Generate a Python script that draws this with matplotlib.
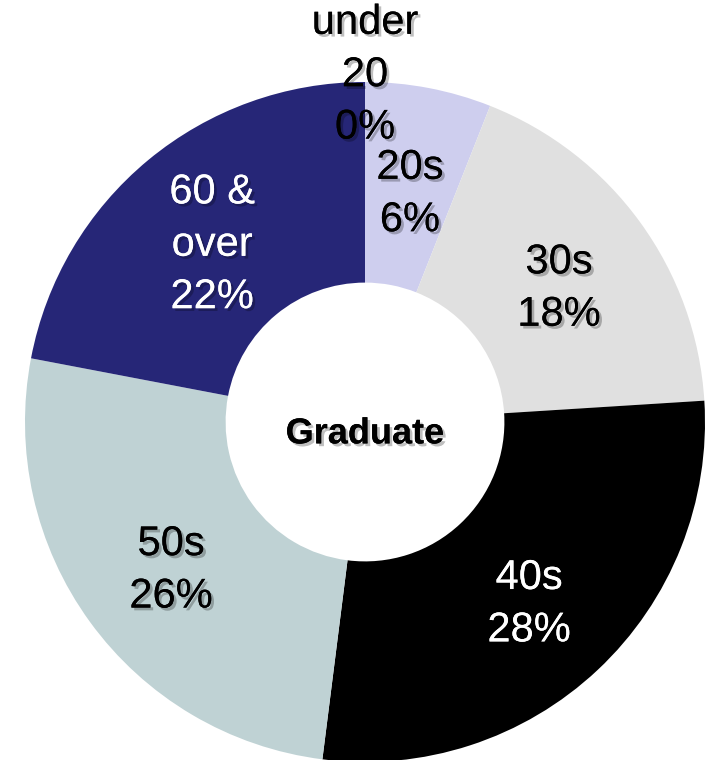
import numpy as np
import matplotlib.pyplot as plt
import matplotlib.patheffects as pe

plt.rcParams['font.family'] = ['Liberation Sans', 'DejaVu Sans']

groups = ['under\n20', '20s', '30s', '40s', '50s', '60 &\nover']
shares = [0, 6, 18, 28, 26, 22]
colors = ['#CECEEE', '#CECEEE', '#E0E0E0', '#000000', '#BFD2D4', '#262677']
text_colors = ['black', 'black', 'black', 'white', 'black', 'white']
center_label = 'Graduate'

fig = plt.figure(figsize=(7.06, 7.60), dpi=100)
ax = fig.add_axes([25 / 706, -2 / 760, 680 / 706, 680 / 760])

hole = 0.41
wedges, _ = ax.pie(shares, colors=colors, startangle=90, counterclock=False,
                   radius=1.0, wedgeprops=dict(width=1 - hole, linewidth=0))
ax.set_xlim(-1, 1)
ax.set_ylim(-1, 1)
ax.set_aspect('equal')
ax.axis('off')

shadow = [pe.withSimplePatchShadow(offset=(2, -2), shadow_rgbFace='black', alpha=0.25), pe.Normal()]

# labels sit mid-ring; the empty slice gets its label just outside the ring
for w, name, val, tc in zip(wedges, groups, shares, text_colors):
    mid = np.deg2rad((w.theta1 + w.theta2) / 2)
    if val > 0:
        x, y = (1 + hole) / 2 * np.cos(mid), (1 + hole) / 2 * np.sin(mid) - 0.022
    else:
        x, y = 1.03 * np.cos(mid), 1.03 * np.sin(mid) - 0.01
    ax.text(x, y, f'{name}\n{val}%',
            ha='center', va='center', fontsize=30, color=tc,
            linespacing=1.4, path_effects=shadow, clip_on=False)

ax.text(0, -0.035, center_label, ha='center', va='center', fontsize=26,
        fontweight='bold', path_effects=shadow)

fig.savefig('out.png', dpi=100)
